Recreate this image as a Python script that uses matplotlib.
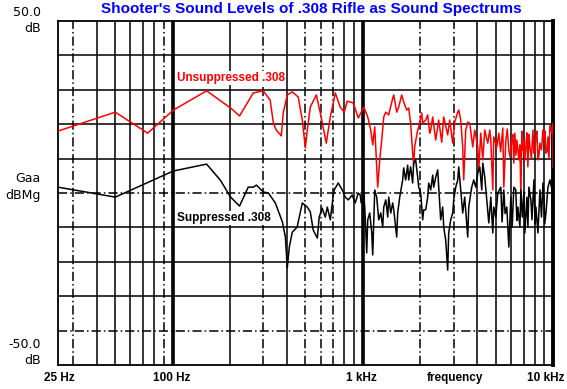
import numpy as np
import matplotlib
matplotlib.use("Agg")
import matplotlib.pyplot as plt

# --- data (Hz, dB) ---
red_freq = [25, 50, 74, 101, 151, 202, 225, 266, 300, 326, 339, 351, 373, 382, 401, 426,
            458, 481, 499, 511, 530, 570, 598, 643, 675, 717, 761, 799, 829, 891, 947, 1012,
            1062, 1101, 1128, 1156, 1184, 1198, 1228, 1258, 1289, 1321, 1369, 1437, 1455, 1508,
            1545, 1602, 1641, 1702, 1744, 1785, 1829, 1851, 1874, 1944, 1968, 2041, 2065, 2142,
            2194, 2249, 2276, 2331, 2418, 2507, 2600, 2664, 2795, 2864, 2970, 3044, 3157, 3195,
            3273, 3352, 3394, 3477, 3562, 3650, 3785, 3878, 4022, 4071, 4171, 4274, 4379, 4541,
            4653, 4710, 4825, 4884, 5065, 5190, 5300, 5447, 5513, 5649, 5750, 5858, 5950, 6075,
            6150, 6224, 6300, 6380, 6455, 6615, 6700, 6777, 6860, 6943, 7028, 7100, 7201, 7290,
            7379, 7470, 7561, 7700, 7842, 7938, 8030, 8133, 8230, 8333, 8430, 8537, 8700, 8853,
            8961, 9080, 9182, 9300, 9407, 9520, 9638, 9875, 9996, 10000]
red_db = [18.0, 23.5, 17.4, 24.1, 29.7, 24.7, 22.4, 29.1, 29.7, 27.0, 20.3, 18.3, 16.6, 23.3, 28.5, 29.4,
          27.9, 21.2, 13.1, 18.3, 25.0, 28.5, 23.3, 14.5, 22.1, 29.1, 25.0, 23.5, 26.7, 26.2, 21.8, 25.0,
          22.1, 18.3, 14.0, 19.2, 7.6, 1.7, 9.6, 15.4, 22.1, 23.5, 22.7, 27.6, 28.5, 23.5,
          25.0, 28.5, 26.5, 24.1, 24.7, 20.3, 11.6, 8.1, 13.4, 18.3, 19.2, 23.3, 20.3, 21.2,
          22.7, 17.4, 18.3, 22.1, 15.4, 21.2, 14.8, 22.1, 16.9, 21.2, 14.5, 20.6, 23.5, 24.1,
          21.2, 13.4, 3.8, 18.3, 20.6, 20.3, 13.4, 18.3, 13.4, 6.7, 17.4, 9.6, 18.3, 14.5,
          18.3, 15.4, 0.9, 16.3, 13.4, 17.4, 12.0, 18.9, 1.7, 15.4, 18.6, 12.5, 10.5, 15.4,
          17.0, 8.7, 17.4, 11.0, 15.4, 9.6, 14.0, -1.2, 18.0, 12.5, 15.4, 9.5, 13.4, 17.5,
          7.6, 17.0, 13.4, 10.0, 18.3, 11.6, 12.0, 16.3, 18.0, 9.6, 11.0, 14.5, 12.5, 18.3,
          15.4, 18.0, 11.6, 12.0, 16.3, 10.0, 19.8, 17.4, 20.3, 7.6]

black_freq = [25, 50, 101, 151, 178, 202, 225, 250, 266, 276, 300, 319, 347, 378, 392, 401,
              411, 426, 452, 481, 511, 530, 549, 577, 590, 612, 635, 651, 675, 700, 708, 743,
              780, 809, 839, 880, 913, 947, 970, 981, 1012, 1024, 1049, 1062, 1088, 1115, 1128,
              1156, 1184, 1213, 1243, 1273, 1289, 1321, 1353, 1369, 1403, 1437, 1455, 1508, 1526,
              1564, 1621, 1641, 1681, 1722, 1744, 1785, 1829, 1851, 1897, 1944, 1968, 2016, 2065,
              2091, 2142, 2194, 2221, 2276, 2331, 2360, 2418, 2477, 2507, 2568, 2631, 2664, 2729,
              2795, 2830, 2900, 2970, 3007, 3081, 3157, 3195, 3273, 3352, 3435, 3562, 3606, 3739,
              3831, 3926, 4022, 4121, 4222, 4274, 4379, 4486, 4597, 4710, 4825, 4884, 5004, 5127,
              5317, 5400, 5513, 5600, 5718, 5858, 6001, 6100, 6224, 6377, 6455, 6535, 6700, 6777,
              6900, 7028, 7114, 7290, 7380, 7470, 7654, 7750, 7938, 8050, 8133, 8333, 8537, 8700,
              8853, 8961, 9050, 9182, 9407, 9638, 9875, 9996, 10000]
black_db = [1.7, -1.2, 6.4, 8.4, 3.8, -1.2, -3.8, 1.7, 1.7, 2.3, 0.3, 0.0, -2.9, -8.4, -12.8, -21.8,
            -15.7, -11.4, -9.9, -2.9, -4.1, -5.5, -10.8, -13.1, -7.0, -4.4, -7.0, -4.1, -7.8, -0.6, 0.9, 2.9,
            0.9, -1.2, -2.0, -0.6, -2.9, 0.0, -0.6, -2.9, 0.0, -4.1, -17.4, -7.8, -5.8, -11.6, -18.0,
            0.9, -1.2, -7.8, -5.8, -9.9, -4.1, -2.0, -7.0, -1.2, -5.8, -2.9, -4.9, -12.8, -5.8,
            -1.2, 3.8, 7.3, 3.8, 8.1, 3.8, 7.6, 2.9, 8.7, 9.6, 4.6, 1.7, 0.0, -7.8,
            -4.9, -4.9, -1.2, 2.9, 0.9, 5.2, 1.7, 4.6, 6.7, 1.7, -7.8, -4.1, -9.9, -13.7,
            -22.4, -11.6, -7.8, -5.8, -2.0, 1.7, 3.8, 7.6, 0.9, -5.8, -1.2, -12.8, -4.1, 1.7,
            3.8, 1.7, 5.8, 7.6, 0.9, 8.7, 4.6, -2.0, -8.7, -1.2, -11.6, -4.1, -7.0, 0.0,
            1.7, -8.4, 0.9, -6.0, -4.1, -15.7, -1.2, -9.9, 1.7, 0.9, -8.0, -4.1, -9.9, 0.9,
            -7.0, 0.3, -11.6, -1.2, -9.9, 1.7, -2.0, -7.8, 3.8, -9.0, -4.1, -11.6, 0.9, -7.0,
            2.9, -1.2, -9.0, -5.8, 1.7, 3.8, 0.9, -19.5, -4.1]

minor_x = [30, 40, 50, 60, 70, 80, 90, 200, 300, 400, 500, 600, 700, 800, 900,
           2000, 3000, 4000, 5000, 6000, 7000, 8000, 9000]
dashed_x = [30, 90, 300, 500, 600, 700, 2000, 3000]
grid_y = [-40, -30, -20, -10, 0, 10, 20, 30, 40]
dashed_y = [-40, 0]

fig = plt.figure(figsize=(5.67, 3.89), dpi=100)
ax = fig.add_axes([58 / 567, 1 - 365 / 389, (553 - 58) / 567, (365 - 21) / 389])
ax.set_xscale("log")
ax.set_xlim(25, 10000)
ax.set_ylim(-50, 50)

for x in minor_x:
    ls = (0, (6, 2, 1, 2)) if x in dashed_x else "-"
    ax.axvline(x, color="black", lw=1.1, ls=ls, zorder=1)
for x in [100, 1000]:
    ax.axvline(x, color="black", lw=2.6, zorder=1)
for y in grid_y:
    ls = (0, (6, 2, 1, 2)) if y in dashed_y else "-"
    ax.axhline(y, color="black", lw=1.1, ls=ls, zorder=1)

ax.plot(red_freq, red_db, color="#ff0000", lw=1.1, zorder=3)
ax.plot(black_freq, black_db, color="black", lw=1.1, zorder=3)

box = dict(facecolor="white", edgecolor="none", pad=0.5)
ax.text(105, 33.4, "Unsuppressed .308", color="#ff0000", fontsize=8.5, va="center",
        fontweight="bold", family="Liberation Sans", zorder=4, bbox=box)
ax.text(106, -7.3, "Suppressed .308", color="black", fontsize=8.5, va="center",
        fontweight="bold", family="Liberation Sans", zorder=4, bbox=box)

for side in ["left", "top", "bottom"]:
    ax.spines[side].set_linewidth(1.3)
ax.spines["right"].set_linewidth(2.8)
ax.set_xticks([])
ax.set_yticks([])
ax.minorticks_off()

# left labels (figure pixel coordinates)
def ftext(px, py, s, **kw):
    fig.text(px / 567, 1 - py / 389, s, **kw)

lab = dict(fontsize=9, family="DejaVu Sans", ha="right", va="center", color="black")
ftext(41, 12, "50.0", **lab)
ftext(41, 29, "dB", **lab)
ftext(41, 179, "Gaa", **lab)
ftext(41, 196, "dBMg", **lab)
ftext(41, 345, "-50.0", **lab)
ftext(41, 360, "dB", **lab)

bot = dict(fontsize=8.5, fontweight="bold", family="Liberation Sans", va="center", color="black")
ftext(59, 378, "25 Hz", ha="center", **bot)
ftext(172, 378, "100 Hz", ha="center", **bot)
ftext(361, 378, "1 kHz", ha="center", **bot)
ftext(455, 378, "frequency", ha="center", **bot)
ftext(564, 378, "10 kHz", ha="right", **bot)

ftext(311, 9, "Shooter's Sound Levels of .308 Rifle as Sound Spectrums",
      ha="center", va="center", fontsize=11, fontweight="bold",
      family="Liberation Sans", color="#0000ff")

fig.savefig("out.png", dpi=100)
